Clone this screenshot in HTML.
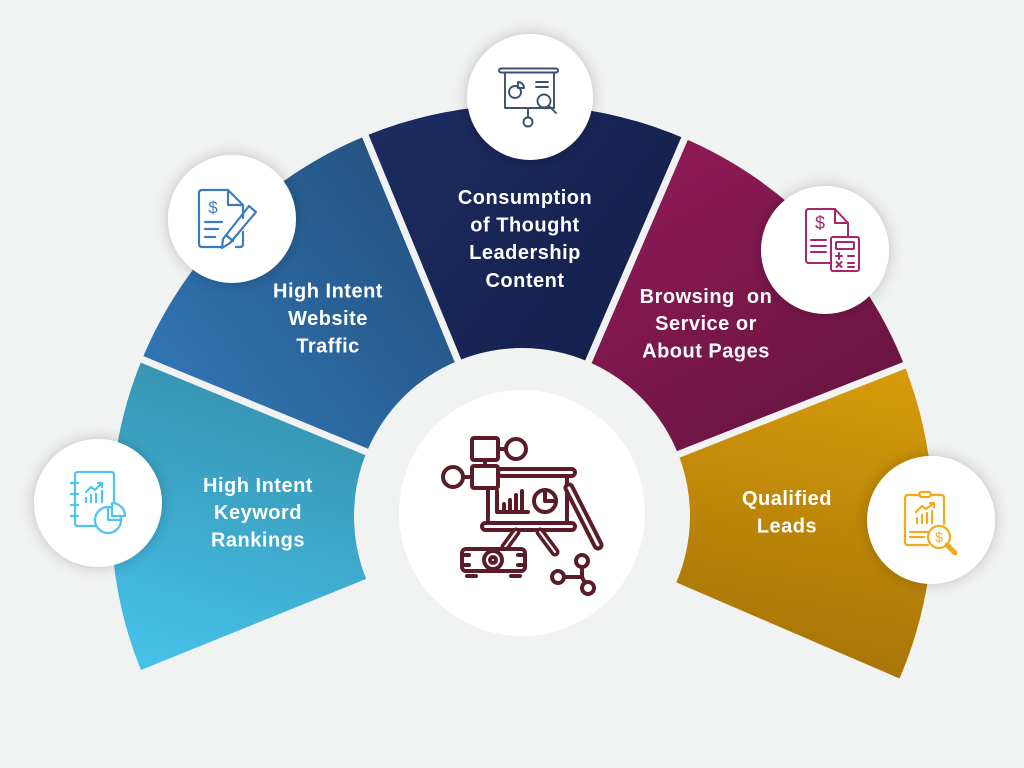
<!DOCTYPE html>
<html><head><meta charset="utf-8"><style>
html,body{margin:0;padding:0;background:#f1f2f2;}
svg{display:block;}
.t{font-family:"Liberation Sans",Arial,sans-serif;font-weight:bold;font-size:20px;fill:#fff;letter-spacing:0.5px;}
</style></head><body>
<svg width="1024" height="768" viewBox="0 0 1024 768" xmlns="http://www.w3.org/2000/svg">
<defs>
<linearGradient id="gL" gradientUnits="userSpaceOnUse" x1="250" y1="360" x2="150" y2="670"><stop offset="0" stop-color="#3590ad"/><stop offset="1" stop-color="#46c2ea"/></linearGradient>
<linearGradient id="gB" gradientUnits="userSpaceOnUse" x1="170" y1="360" x2="420" y2="170"><stop offset="0" stop-color="#3073b1"/><stop offset="1" stop-color="#23517f"/></linearGradient>
<linearGradient id="gN" gradientUnits="userSpaceOnUse" x1="380" y1="140" x2="680" y2="360"><stop offset="0" stop-color="#1c2b60"/><stop offset="1" stop-color="#131e48"/></linearGradient>
<linearGradient id="gM" gradientUnits="userSpaceOnUse" x1="690" y1="150" x2="860" y2="430"><stop offset="0" stop-color="#8d1a56"/><stop offset="1" stop-color="#671440"/></linearGradient>
<linearGradient id="gG" gradientUnits="userSpaceOnUse" x1="880" y1="370" x2="820" y2="680"><stop offset="0" stop-color="#d69b0a"/><stop offset="1" stop-color="#a67307"/></linearGradient>
<filter id="sh" x="-40%" y="-40%" width="180%" height="180%"><feDropShadow dx="0" dy="0" stdDeviation="7" flood-color="#000" flood-opacity="0.22"/></filter>
</defs>
<rect width="1024" height="768" fill="#f1f2f2"/>

<!-- segments -->
<path d="M140.9,670 A411,411 0 0 1 142,359.4 L366.7,452 A168,168 0 0 0 366.2,578.9 Z" fill="url(#gL)"/>
<path d="M142,359.4 A411,411 0 0 1 365.4,136 L458,360.7 A168,168 0 0 0 366.7,452 Z" fill="url(#gB)"/>
<path d="M365.4,136 A411,411 0 0 1 684.6,138.5 L588.4,361.7 A168,168 0 0 0 458,360.7 Z" fill="url(#gN)"/>
<path d="M684.6,138.5 A411,411 0 0 1 904.4,365.4 L678.3,454.4 A168,168 0 0 0 588.4,361.7 Z" fill="url(#gM)"/>
<path d="M904.4,365.4 A411,411 0 0 1 899.5,678.5 L676.3,582.4 A168,168 0 0 0 678.3,454.4 Z" fill="url(#gG)"/>

<!-- gaps -->
<g stroke="#f1f2f2" stroke-width="7">
<line x1="661.6" y1="461" x2="917.4" y2="360.2"/>
<line x1="581.3" y1="378.2" x2="690.1" y2="125.7"/>
<line x1="464.8" y1="377.3" x2="360" y2="123.1"/>
<line x1="383.3" y1="458.8" x2="129.1" y2="354"/>
</g>

<!-- texts -->
<text class="t" text-anchor="middle"><tspan x="258" y="492">High Intent</tspan><tspan x="258" y="519">Keyword</tspan><tspan x="258" y="546.5">Rankings</tspan></text>
<text class="t" text-anchor="middle"><tspan x="328" y="297.5">High Intent</tspan><tspan x="328" y="325">Website</tspan><tspan x="328" y="352.5">Traffic</tspan></text>
<text class="t" text-anchor="middle"><tspan x="525" y="204">Consumption</tspan><tspan x="525" y="231.5">of Thought</tspan><tspan x="525" y="259">Leadership</tspan><tspan x="525" y="287">Content</tspan></text>
<text class="t" text-anchor="middle"><tspan x="706" y="303" xml:space="preserve">Browsing  on</tspan><tspan x="706" y="330">Service or</tspan><tspan x="706" y="357.5">About Pages</tspan></text>
<text class="t" text-anchor="middle"><tspan x="787" y="505">Qualified</tspan><tspan x="787" y="532.5">Leads</tspan></text>

<!-- circles -->
<circle cx="522" cy="513" r="123" fill="#fff"/>
<g filter="url(#sh)" fill="#fff">
<circle cx="530" cy="97" r="63"/>
<circle cx="232" cy="219" r="64"/>
<circle cx="98" cy="503" r="64"/>
<circle cx="825" cy="250" r="64"/>
<circle cx="931" cy="520" r="64"/>
</g>

<!-- center icon -->
<g stroke="#5a1c27" stroke-width="4" fill="none" stroke-linecap="round" stroke-linejoin="round">
<rect x="472" y="438" width="26" height="22" rx="2"/>
<line x1="498" y1="449" x2="506" y2="449"/>
<circle cx="516" cy="449" r="10"/>
<line x1="485" y1="460" x2="485" y2="466"/>
<rect x="472" y="466" width="26" height="22" rx="2"/>
<line x1="472" y1="477" x2="464" y2="477"/>
<circle cx="453" cy="477" r="10"/>
<rect x="498" y="469" width="77" height="7" rx="3.5"/>
<line x1="488" y1="488" x2="488" y2="523"/>
<line x1="567" y1="476" x2="567" y2="523"/>
<rect x="482" y="523" width="93" height="7" rx="3.5"/>
<polyline points="497,491 497,512 528,512"/>
<line x1="504" y1="512" x2="504" y2="504"/>
<line x1="510" y1="512" x2="510" y2="500"/>
<line x1="516" y1="512" x2="516" y2="495"/>
<line x1="522" y1="512" x2="522" y2="491"/>
<circle cx="545" cy="501" r="11"/>
<polyline points="545,490 545,501 556,501"/>
</g>
<g stroke-linecap="round">
<line x1="569" y1="488" x2="598" y2="545" stroke="#5a1c27" stroke-width="11"/>
<line x1="569" y1="488" x2="598" y2="545" stroke="#fff" stroke-width="3"/>
<line x1="516" y1="532" x2="505" y2="547" stroke="#5a1c27" stroke-width="9"/>
<line x1="516" y1="532" x2="505" y2="547" stroke="#fff" stroke-width="2"/>
<line x1="540" y1="532" x2="555" y2="552" stroke="#5a1c27" stroke-width="9"/>
<line x1="540" y1="532" x2="555" y2="552" stroke="#fff" stroke-width="2"/>
</g>
<g stroke="#5a1c27" stroke-width="4" fill="none" stroke-linecap="round" stroke-linejoin="round">
<rect x="462" y="549" width="63" height="22" rx="4" fill="#fff"/>
<circle cx="493" cy="560" r="9"/>
<circle cx="493" cy="560" r="3"/>
<line x1="462" y1="555" x2="469" y2="555"/>
<line x1="462" y1="565" x2="469" y2="565"/>
<line x1="518" y1="555" x2="525" y2="555"/>
<line x1="518" y1="565" x2="525" y2="565"/>
<line x1="467" y1="576" x2="476" y2="576"/>
<line x1="511" y1="576" x2="520" y2="576"/>
<circle cx="582" cy="561" r="6"/>
<circle cx="558" cy="577" r="6"/>
<circle cx="588" cy="588" r="6"/>
<line x1="564" y1="577" x2="582" y2="577"/>
<line x1="582" y1="567" x2="582" y2="577"/>
<line x1="582" y1="577" x2="585" y2="583"/>
</g>

<!-- top icon -->
<g stroke="#3c4f6e" stroke-width="1.9" fill="none" stroke-linecap="round" stroke-linejoin="round">
<rect x="499" y="68.5" width="59" height="4" rx="2"/>
<path d="M505,72.5 V108 H554 V72.5"/>
<line x1="528" y1="108" x2="528" y2="117"/>
<circle cx="528" cy="122" r="4.5"/>
<circle cx="515" cy="92" r="6"/>
<path d="M518,88 V82 A6,6 0 0 1 524,88 Z"/>
<line x1="536" y1="82" x2="548" y2="82"/>
<line x1="536" y1="87" x2="548" y2="87"/>
<circle cx="544" cy="101" r="6.5" fill="#fff"/>
<line x1="549" y1="106" x2="556" y2="113"/>
</g>

<!-- blue icon -->
<g stroke="#3a7cc0" stroke-width="2.2" fill="none" stroke-linecap="round" stroke-linejoin="round">
<path d="M228,190 H202 Q199,190 199,193 V244 Q199,247 202,247 H222"/>
<path d="M236,247 H240 Q243,247 243,244 V232"/>
<path d="M243,218 V205 L228,190 V205 H243"/>
<line x1="205" y1="222" x2="222" y2="222"/>
<line x1="205" y1="229" x2="218" y2="229"/>
<line x1="205" y1="237" x2="215" y2="237"/>
<path d="M249,206 L256,212 L230,243 L222,248 L223,239 Z"/>
<line x1="226" y1="235" x2="233" y2="241"/>
</g>
<text x="213" y="213" text-anchor="middle" font-family="Liberation Sans,Arial,sans-serif" font-size="17" fill="#3a7cc0">$</text>

<!-- left icon -->
<g stroke="#4ec4f0" stroke-width="2.2" fill="none" stroke-linecap="round" stroke-linejoin="round">
<path d="M97,526 H78 Q75,526 75,523 V475 Q75,472 78,472 H111 Q114,472 114,475 V505"/>
<line x1="71" y1="483" x2="78" y2="483"/>
<line x1="71" y1="494" x2="78" y2="494"/>
<line x1="71" y1="505" x2="78" y2="505"/>
<line x1="71" y1="516" x2="78" y2="516"/>
<line x1="86" y1="502" x2="86" y2="498"/>
<line x1="91" y1="502" x2="91" y2="495"/>
<line x1="96" y1="502" x2="96" y2="494"/>
<line x1="102" y1="502" x2="102" y2="491"/>
<polyline points="86,492 91,487 95,490 102,483"/>
<polyline points="98,483 102,483 102,487"/>
<circle cx="108" cy="520" r="13" fill="#fff"/>
<path d="M112,516 V503 A13,13 0 0 1 125,516 Z" fill="#fff"/>
<polyline points="108,507 108,520 121,520"/>
</g>

<!-- maroon icon -->
<g stroke="#a52769" stroke-width="2" fill="none" stroke-linecap="round" stroke-linejoin="round">
<path d="M835,209 H809 Q806,209 806,212 V260 Q806,263 809,263 H830"/>
<path d="M835,209 L848,223 V236"/>
<path d="M835,209 V223 H848"/>
<line x1="811" y1="240" x2="826" y2="240"/>
<line x1="811" y1="246" x2="826" y2="246"/>
<line x1="811" y1="252" x2="826" y2="252"/>
<rect x="831" y="237" width="28" height="34" rx="2"/>
<rect x="836" y="242" width="18" height="7" rx="1"/>
<line x1="836" y1="256" x2="842" y2="256"/>
<line x1="839" y1="253" x2="839" y2="259"/>
<line x1="848" y1="256" x2="854" y2="256"/>
<line x1="836.5" y1="262" x2="841.5" y2="267"/>
<line x1="841.5" y1="262" x2="836.5" y2="267"/>
<line x1="848" y1="263" x2="854" y2="263"/>
<line x1="848" y1="267" x2="854" y2="267"/>
</g>
<text x="820" y="229" text-anchor="middle" font-family="Liberation Sans,Arial,sans-serif" font-size="18" fill="#a52769">$</text>

<!-- gold icon -->
<g stroke="#f2a91a" stroke-width="2.2" fill="none" stroke-linecap="round" stroke-linejoin="round">
<path d="M920,495 H908 Q905,495 905,498 V542 Q905,545 908,545 H928"/>
<path d="M931,495 H941 Q944,495 944,498 V524"/>
<rect x="919" y="492" width="12" height="5" rx="2.5"/>
<line x1="917" y1="523" x2="917" y2="518"/>
<line x1="922" y1="523" x2="922" y2="515"/>
<line x1="927" y1="523" x2="927" y2="513"/>
<line x1="932" y1="523" x2="932" y2="511"/>
<polyline points="916,512 922,506 926,509 934,503"/>
<polyline points="930,503 934,503 934,507"/>
<line x1="910" y1="532" x2="928" y2="532"/>
<line x1="910" y1="537" x2="924" y2="537"/>
<circle cx="939" cy="537" r="11" fill="#fff"/>
<line x1="947" y1="545" x2="955" y2="553" stroke-width="5"/>
</g>
<text x="939" y="542" text-anchor="middle" font-family="Liberation Sans,Arial,sans-serif" font-size="14" fill="#f2a91a">$</text>
</svg>
</body></html>
